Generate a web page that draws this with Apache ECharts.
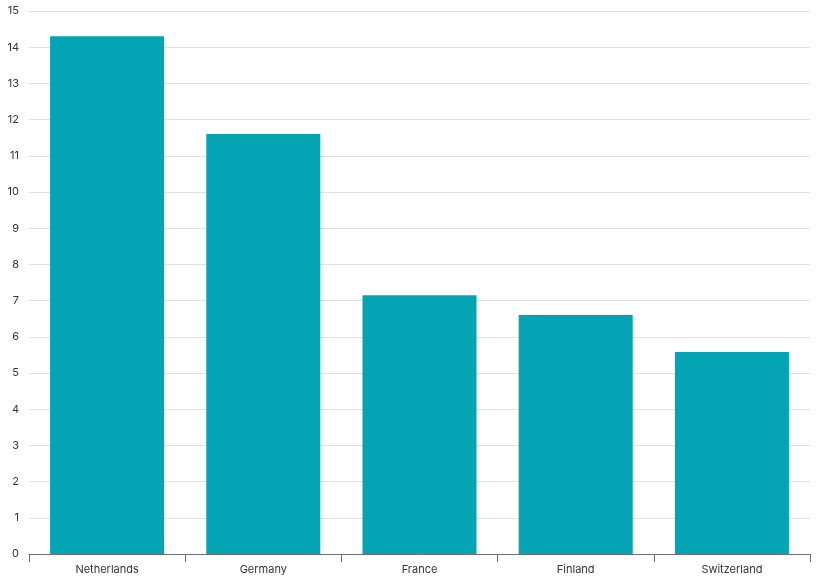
<!DOCTYPE html>
<html><head><meta charset="utf-8">
<script src="https://cdn.jsdelivr.net/npm/echarts@6/dist/echarts.min.js"></script>
<style>html,body{margin:0;padding:0;background:#fff}#c{width:835px;height:586px}</style>
</head><body><div id="c"></div>
<script>
var categories = ["Netherlands", "Germany", "France", "Finland", "Switzerland"];
var values = [14.3, 11.6, 7.15, 6.6, 5.58];
var chart = echarts.init(document.getElementById('c'), null, {renderer: 'canvas'});
chart.setOption({
  animation: false,
  grid: {left: 29, right: 25, top: 11, bottom: 32, containLabel: false},
  xAxis: {
    type: 'category', data: categories,
    axisLine: {lineStyle: {color: '#6E7079'}},
    axisTick: {show: true, length: 8, alignWithLabel: false, lineStyle: {color: '#6E7079'}},
    axisLabel: {color: '#333', fontSize: 11, fontFamily: 'Inter, sans-serif', margin: 10}
  },
  yAxis: {
    type: 'value', min: 0, max: 15, interval: 1,
    axisLine: {show: false}, axisTick: {show: false},
    splitLine: {lineStyle: {color: '#e0e0e0'}},
    axisLabel: {color: '#333', fontSize: 11, fontFamily: 'Inter, sans-serif', margin: 10}
  },
  series: [{type: 'bar', data: values, barWidth: '73%', itemStyle: {color: '#04a4b4'}}]
});
</script></body></html>
